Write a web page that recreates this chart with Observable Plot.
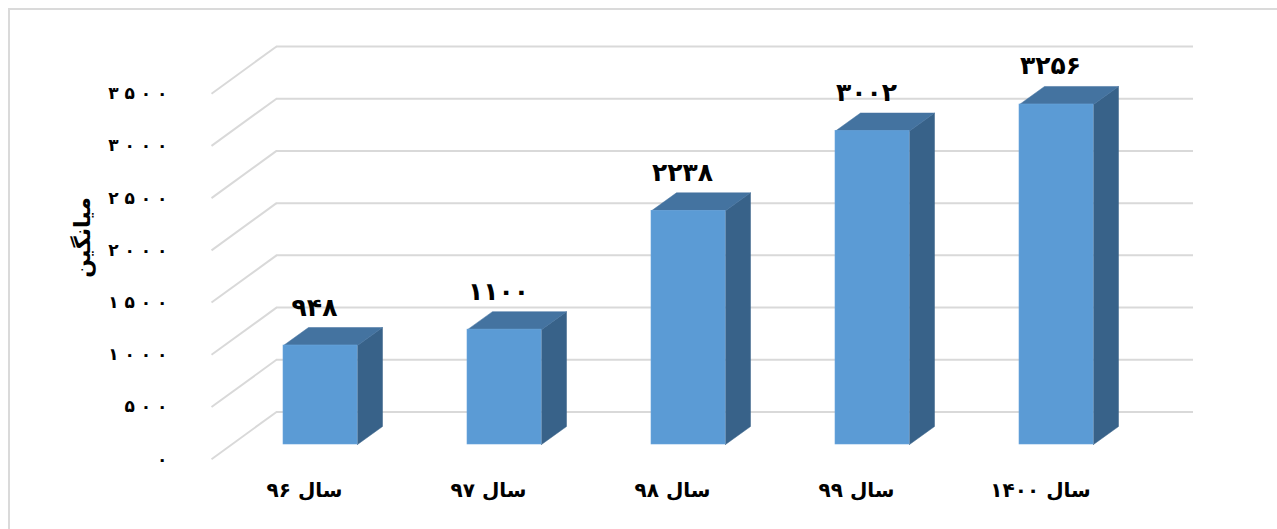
<!DOCTYPE html>
<html>
<head>
<meta charset="utf-8">
<script src="https://cdn.jsdelivr.net/npm/d3@7"></script>
<script src="https://cdn.jsdelivr.net/npm/@observablehq/plot@0.6"></script>
<style>
  html, body { margin: 0; padding: 0; background: #fff; overflow: hidden; width: 1277px; height: 529px; }
  #border { position: absolute; left: 8px; top: 8px; width: 1300px; height: 600px; border-left: 2px solid #dadada; border-top: 2px solid #dadada; }
  #chart { position: absolute; left: 0; top: 0; }
  #chart svg { font-family: "DejaVu Sans", sans-serif; }
</style>
</head>
<body>
<div id="border"></div>
<div id="chart"></div>
<script>
// ---- data ----
const categories = ["سال ۹۶", "سال ۹۷", "سال ۹۸", "سال ۹۹", "سال ۱۴۰۰"];
const values = [948, 1100, 2238, 3002, 3256];
const yTicks = [0, 500, 1000, 1500, 2000, 2500, 3000, 3500];
const yTitle = "میانگین";

const fa = (n) => String(n).replace(/\d/g, (d) => "۰۱۲۳۴۵۶۷۸۹"[d]);
const faSpaced = (n) => fa(n).split("").join(" ");

// ---- layout (pixels) ----
const W = 1277, H = 529;
const xDomain = [-0.5, categories.length - 0.5];
const xRange = [228, 1148];
const yDomain = [0, 3500];
const yRange = [444, 78.5];
const xs = Plot.scale({x: {type: "linear", domain: xDomain, range: xRange}});
const ys = Plot.scale({y: {type: "linear", domain: yDomain, range: yRange}});
const kx = (xRange[1] - xRange[0]) / (xDomain[1] - xDomain[0]); // px per category
const ky = (yRange[0] - yRange[1]) / (yDomain[1] - yDomain[0]); // px per unit

const barHalf = 37 / kx;          // half bar width (data units)
const depthX = 25 / kx, depthY = 18 / ky;   // bar depth offset
const backDx = 48, backDy = -32.5;          // back wall offset (px)
const frontDx = -17, frontDy = 14.7;        // front plane offset (px)

const bars = categories.map((c, i) => ({i, c, v: values[i]}));

// polygons for top and side faces
const tops = bars.flatMap(b => [
  {id: b.i, x: b.i - barHalf, y: b.v},
  {id: b.i, x: b.i + barHalf, y: b.v},
  {id: b.i, x: b.i + barHalf + depthX, y: b.v + depthY},
  {id: b.i, x: b.i - barHalf + depthX, y: b.v + depthY},
  {id: b.i, x: b.i - barHalf, y: b.v}
]);
const sides = bars.flatMap(b => [
  {id: b.i, x: b.i + barHalf, y: 0},
  {id: b.i, x: b.i + barHalf + depthX, y: depthY},
  {id: b.i, x: b.i + barHalf + depthX, y: b.v + depthY},
  {id: b.i, x: b.i + barHalf, y: b.v},
  {id: b.i, x: b.i + barHalf, y: 0}
]);

const grid = "#d9d9d9";

const chart = Plot.plot({
  width: W,
  height: H,
  marginLeft: xRange[0],
  marginRight: W - xRange[1],
  marginTop: yRange[1],
  marginBottom: H - yRange[0],
  x: {type: "linear", domain: xDomain, axis: null},
  y: {type: "linear", domain: yDomain, axis: null},
  style: {background: "transparent", overflow: "visible"},
  marks: [
    // back wall gridlines
    Plot.ruleY(yTicks, {x1: xDomain[0], x2: xDomain[1] - 3 / kx, dx: backDx, dy: backDy, stroke: grid, strokeWidth: 2}),
    // side wall diagonals
    Plot.link(yTicks, {
      x1: () => xDomain[0], y1: d => d,
      x2: () => xDomain[0] + (backDx - frontDx) / kx, y2: d => d + (frontDy - backDy) / ky,
      dx: frontDx, dy: frontDy, stroke: grid, strokeWidth: 2
    }),
    // bar side faces
    Plot.line(sides, {x: "x", y: "y", z: "id", fill: "#386289", stroke: "#386289", strokeWidth: 0.5, curve: "linear"}),
    // bar top faces
    Plot.line(tops, {x: "x", y: "y", z: "id", fill: "#4473a0", stroke: "#4473a0", strokeWidth: 0.5, curve: "linear"}),
    // bar front faces
    Plot.rectY(bars, {x1: d => d.i - barHalf, x2: d => d.i + barHalf, y1: 0, y2: "v", fill: "#5b9bd5", stroke: "#6aa6dc", strokeWidth: 0.6}),
    // value labels
    Plot.text(bars, {x: "i", y: "v", text: d => fa(d.v), dx: -6, dy: -38, fontSize: 25, fontWeight: "bold", fill: "#000"}),
    // y axis tick labels (front plane)
    Plot.axisY({ticks: yTicks, tickFormat: faSpaced, tickSize: 0, tickPadding: 61, dy: frontDy, fontSize: 17, fontWeight: "bold", fill: "#000"}),
    // x axis labels
    Plot.axisX({ticks: d3.range(categories.length), tickFormat: i => categories[i], tickSize: 0, tickPadding: 38, dx: -16, fontSize: 20, fontWeight: "bold", fill: "#000"}),
    // y title
    Plot.text([yTitle], {x: () => xs.invert(82), y: () => ys.invert(237), rotate: -90, fontSize: 22, fontWeight: "bold", fill: "#000"})
  ]
});
document.getElementById("chart").appendChild(chart);
</script>
</body>
</html>
